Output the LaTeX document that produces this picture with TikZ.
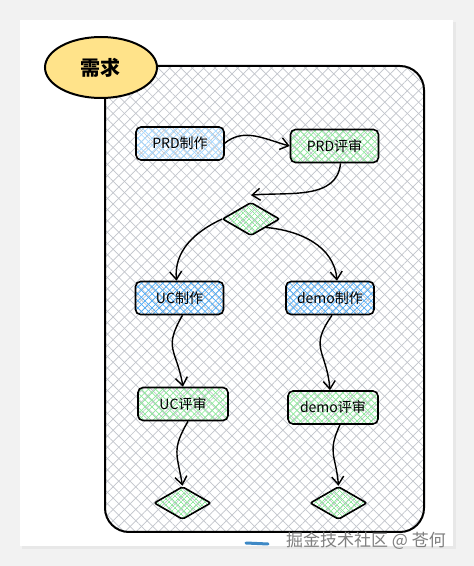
\documentclass[tikz,border=0pt]{standalone}
\usepackage{fontspec}
\setmainfont{Noto Sans CJK SC}
\usetikzlibrary{arrows.meta, shapes.geometric, patterns.meta}

\definecolor{hatchgray}{HTML}{C2C5CC}
\definecolor{paleblue}{HTML}{A5D8FF}
\definecolor{deepblue}{HTML}{4DABF7}
\definecolor{palegreen}{HTML}{8CE99A}
\definecolor{notepad}{HTML}{FFE38A}

\begin{document}
\begin{tikzpicture}[x=1pt, y=1pt, >={Straight Barb[length=8pt, width=12pt]},
  every node/.style={font=\fontsize{14}{16}\selectfont, align=center},
  hatch/.style 2 args={preaction={pattern={Lines[angle=45, distance=#2, line width=.7pt]}, pattern color=#1},
    pattern={Lines[angle=-45, distance=#2, line width=.7pt]}, pattern color=#1},
  stepbox/.style={draw, line width=1.6pt, rounded corners=5pt, minimum width=88pt, minimum height=33pt, inner sep=2pt},
  gatebox/.style={diamond, draw, line width=1.6pt, rounded corners=2pt, minimum width=57pt, minimum height=33pt, inner sep=0pt, hatch={palegreen}{4pt}},
  flow/.style={->, line width=1.4pt}]
  \useasboundingbox (0,0) rectangle (474,566);
  % page and card
  \fill[black!5] (0,0) rectangle (474,566);
  \fill[black!9] (22,17) rectangle (456,544);
  \fill[white] (20,20) rectangle (453,546);
  % the requirement frame
  \draw[line width=2pt, rounded corners=24pt, hatch={hatchgray}{8pt}] (105,34) rectangle (424,500);
  \node[draw, ellipse, line width=2pt, fill=notepad, minimum width=112pt, minimum height=61pt,
    font=\fontsize{20}{22}\selectfont\bfseries] (req) at (101,498.5) {需求};
  % PRD row
  \node[stepbox, hatch={paleblue}{5pt}]  (prdmake) at (180,422.5) {PRD制作};
  \node[stepbox, hatch={palegreen}{5pt}] (prdrev)  at (334.5,420) {PRD评审};
  \node[gatebox] (split) at (251,347) {};
  % two branches
  \node[stepbox, hatch={deepblue}{5pt}]  (ucmake)   at (179.5,268) {UC制作};
  \node[stepbox, hatch={deepblue}{5pt}]  (demomake) at (330,268)   {demo制作};
  \node[stepbox, hatch={palegreen}{5pt}, minimum width=90pt] (ucrev)   at (183,162)   {UC评审};
  \node[stepbox, hatch={palegreen}{5pt}, minimum width=90pt] (demorev) at (333,158.5) {demo评审};
  \node[gatebox] (ucend)   at (182.5,63) {};
  \node[gatebox] (demoend) at (338.5,63) {};
  \draw[flow] (prdmake.east) to[out=40, in=165] (prdrev.west);
  \draw[flow] ([xshift=6pt]prdrev.south) to[out=-95, in=5] ([yshift=7pt]split.north);
  \draw[flow] (split.west) to[out=-155, in=95] ([xshift=-3pt]ucmake.north);
  \draw[flow] (split.south east) to[out=-5, in=95] ([xshift=7pt]demomake.north);
  \draw[flow] ([xshift=3pt]ucmake.south) to[out=-120, in=100, looseness=1.4] (ucrev.north);
  \draw[flow] ([xshift=2pt]demomake.south) to[out=-125, in=95, looseness=1.4] ([xshift=-3pt]demorev.north);
  \draw[flow] ([xshift=5pt]ucrev.south) to[out=-120, in=100, looseness=1.3] (ucend.north);
  \draw[flow] ([xshift=7pt]demorev.south) to[out=-115, in=95, looseness=1.3] (demoend.north);
  % watermark
  \draw[line width=3pt, color=deepblue!80!black, line cap=round] (246,23) -- (268,22);
  \node[text=black!50, font=\fontsize{17}{19}\selectfont] (mark) at (366,25) {掘金技术社区 @ 苍何};
\end{tikzpicture}
\end{document}
